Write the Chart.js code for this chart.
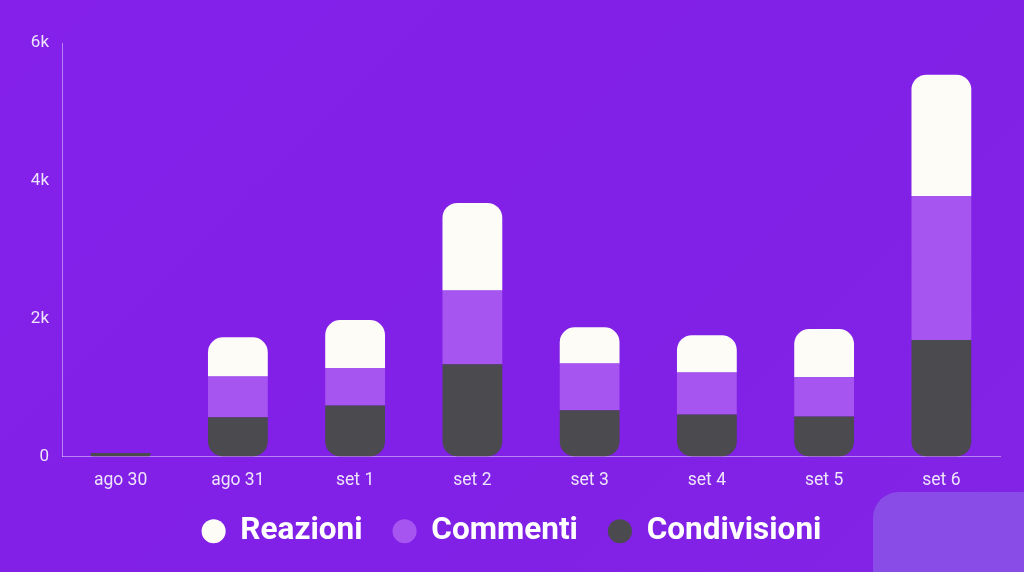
<!DOCTYPE html>
<html>
<head>
<meta charset="utf-8">
<script src="https://cdn.jsdelivr.net/npm/chart.js@4/dist/chart.umd.min.js"></script>
<style>
  html, body { margin: 0; padding: 0; background: #8321e8; }
  #wrap { position: relative; width: 1024px; height: 572px; overflow: hidden;
          background: linear-gradient(135deg, #8420ea 0%, #8120e6 60%, #8224e6 100%); }
  #corner { position: absolute; left: 873px; top: 492px; width: 180px; height: 120px;
            background: #8a4ce6; border-radius: 26px; }
  canvas { position: absolute; left: 0; top: 0; }
</style>
</head>
<body>
<div id="wrap">
  <div id="corner"></div>
  <canvas id="chart" width="1024" height="572"></canvas>
</div>
<script>
// values
const labels = ['ago 30', 'ago 31', 'set 1', 'set 2', 'set 3', 'set 4', 'set 5', 'set 6'];
const condivisioni = [50, 570, 740, 1340, 670, 610, 580, 1690];
const commenti = [0, 590, 540, 1070, 680, 610, 570, 2090];
const reazioni = [0, 570, 700, 1270, 525, 540, 700, 1760];
const yTicks = [0, 2000, 4000, 6000];

const R = 15;
const LEGEND_DY = -13;
const LEGEND_DX = 7;

// legend padding is wide horizontally; pull the legend back up a bit
const legendShift = {
    id: 'legendShift',
    afterLayout(chart) {
        const lg = chart.legend;
        lg.top += LEGEND_DY;
        lg.bottom += LEGEND_DY;
        lg.left += LEGEND_DX;
        lg.right += LEGEND_DX;
        (lg.legendHitBoxes || []).forEach(h => { h.top += LEGEND_DY; h.left += LEGEND_DX; });
    }
};

const ctx = document.getElementById('chart').getContext('2d');
new Chart(ctx, {
    type: 'bar',
    data: {
        labels,
        // stacked bottom -> top
        datasets: [
            { label: 'Condivisioni', data: condivisioni, backgroundColor: '#4b4a4e',
              borderSkipped: false, borderRadius: { topLeft: 0, topRight: 0, bottomLeft: R, bottomRight: R } },
            { label: 'Commenti', data: commenti, backgroundColor: '#a655f0',
              borderSkipped: false, borderRadius: 0 },
            { label: 'Reazioni', data: reazioni, backgroundColor: '#fdfcf6',
              borderSkipped: false, borderRadius: { topLeft: R, topRight: R, bottomLeft: 0, bottomRight: 0 } }
        ]
    },
    plugins: [legendShift],
    options: {
        responsive: false,
        animation: false,
        layout: { padding: { top: 43, right: 24, left: 10, bottom: 2 } },
        datasets: { bar: { barPercentage: 0.51, categoryPercentage: 1 } },
        plugins: {
            tooltip: { enabled: false },
            legend: {
                position: 'bottom',
                reverse: true,
                labels: {
                    usePointStyle: true,
                    pointStyle: 'circle',
                    boxWidth: 22,
                    boxHeight: 17,
                    padding: 31,
                    color: '#ffffff',
                    font: { family: 'Roboto', size: 31.5, weight: 'bold' },
                    generateLabels: chart => chart.data.datasets.map((ds, i) => ({
                        text: ds.label, fillStyle: ds.backgroundColor, strokeStyle: ds.backgroundColor,
                        lineWidth: 0, pointStyle: 'circle', datasetIndex: i, fontColor: '#ffffff'
                    }))
                }
            }
        },
        scales: {
            x: {
                stacked: true,
                grid: { display: false },
                border: { display: true, color: 'rgba(230,210,255,0.55)', width: 1 },
                ticks: { color: '#eee4fb', font: { family: 'Roboto', size: 17.5 }, padding: 6 }
            },
            y: {
                stacked: true,
                min: 0, max: 6000,
                afterBuildTicks: axis => { axis.ticks = yTicks.map(v => ({ value: v })); },
                afterFit: axis => { axis.width = 52; },
                grid: { display: false },
                border: { display: true, color: 'rgba(230,210,255,0.55)', width: 1 },
                ticks: {
                    color: '#eee4fb', font: { family: 'Roboto', size: 17 }, padding: 5,
                    callback: v => v === 0 ? '0' : (v / 1000) + 'k'
                }
            }
        }
    }
});
</script>
</body>
</html>
